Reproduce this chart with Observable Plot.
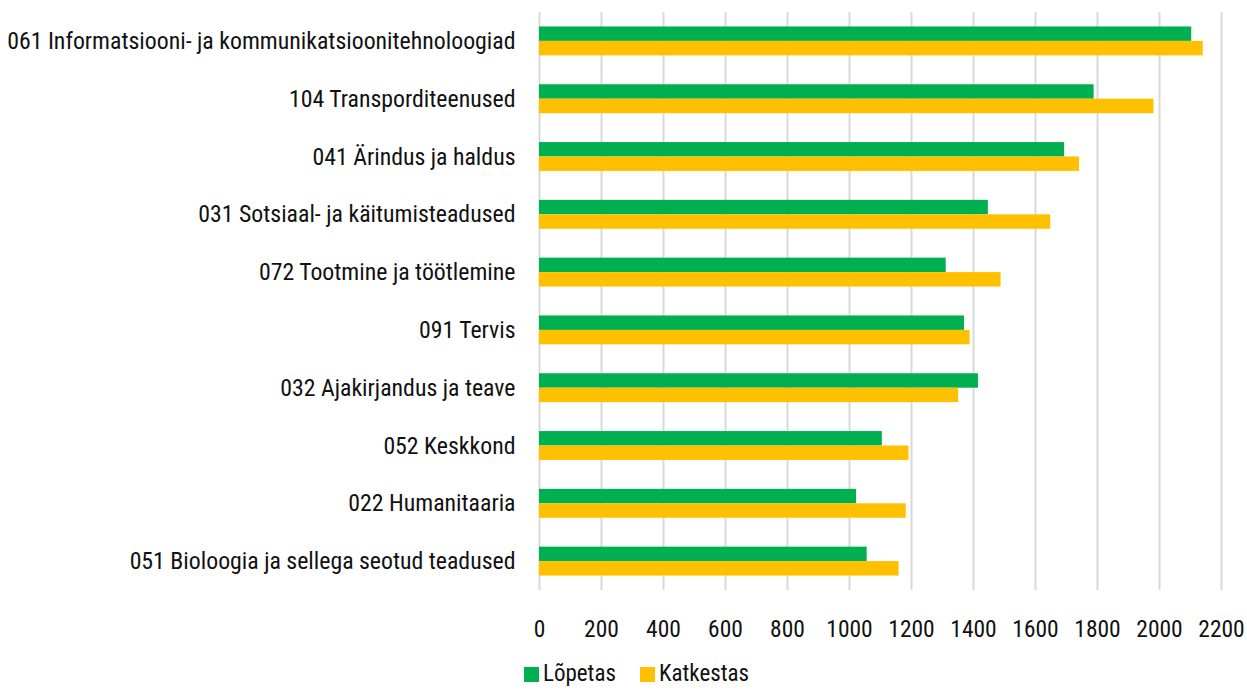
<!DOCTYPE html>
<html>
<head>
<meta charset="utf-8">
<script src="https://cdn.jsdelivr.net/npm/d3@7"></script>
<script src="https://cdn.jsdelivr.net/npm/@observablehq/plot@0.6"></script>
<style>
  body { margin: 0; background: #fff; font-family: "Roboto Condensed", "Liberation Sans Narrow", "DejaVu Sans Condensed", Roboto, sans-serif; font-stretch: condensed; }
  #chart svg { display: block; }
  .legend { display: flex; justify-content: center; gap: 24px; font-size: 23px; color: #111; margin-left: 26px; margin-top: 12px; line-height: 24px; }
  .legend span.item { display: flex; align-items: center; gap: 4px; }
  .legend span.sw { width: 15px; height: 15px; display: inline-block; }
</style>
</head>
<body>
<div id="chart"></div>
<script>
const categories = [
  "061 Informatsiooni- ja kommunikatsioonitehnoloogiad",
  "104 Transporditeenused",
  "041 Ärindus ja haldus",
  "031 Sotsiaal- ja käitumisteadused",
  "072 Tootmine ja töötlemine",
  "091 Tervis",
  "032 Ajakirjandus ja teave",
  "052 Keskkond",
  "022 Humanitaaria",
  "051 Bioloogia ja sellega seotud teadused"
];
const lopetas = [2104, 1789, 1694, 1448, 1312, 1371, 1416, 1106, 1023, 1057];
const katkestas = [2141, 1982, 1742, 1649, 1489, 1389, 1352, 1192, 1183, 1160];
const seriesNames = ["Lõpetas", "Katkestas"];
const seriesColors = ["#00b050", "#ffc000"];
const xTicks = [0, 200, 400, 600, 800, 1000, 1200, 1400, 1600, 1800, 2000, 2200];

const rowsL = categories.map((c, i) => ({cat: c, value: lopetas[i], series: seriesNames[0]}));
const rowsK = categories.map((c, i) => ({cat: c, value: katkestas[i], series: seriesNames[1]}));

const W = 1247, H = 650, mT = 12, mB = 60;
const n = categories.length;
const step = (H - mT - mB) / (n - 0.5 + 2 * 0.25);
const bw = step * 0.5;
const half = bw / 2;

const chart = Plot.plot({
  width: W,
  height: H,
  marginTop: mT,
  marginBottom: mB,
  marginLeft: 539,
  marginRight: 26,
  style: {fontFamily: '"Roboto Condensed", "Liberation Sans Narrow", "DejaVu Sans Condensed", Roboto, sans-serif', fontSize: "23.8px", color: "#111", fontStretch: "condensed"},
  x: {domain: [0, 2200], ticks: xTicks, label: null},
  y: {domain: categories, paddingInner: 0.5, paddingOuter: 0.25, round: false, label: null},
  color: {domain: seriesNames, range: seriesColors},
  marks: [
    Plot.gridX(xTicks, {stroke: "#d9d9d9", strokeOpacity: 1, strokeWidth: 2}),
    Plot.barX(rowsL, {x: "value", y: "cat", fill: "series", insetBottom: half}),
    Plot.barX(rowsK, {x: "value", y: "cat", fill: "series", insetTop: half}),
    Plot.axisX({ticks: xTicks, tickSize: 0, tickPadding: 30, label: null, fontSize: 23.5, tickFormat: d => String(d)}),
    Plot.axisY({tickSize: 0, tickPadding: 24, label: null, fontSize: 23.8})
  ]
});
document.getElementById("chart").appendChild(chart);

const legend = document.createElement("div");
legend.className = "legend";
seriesNames.forEach((s, i) => {
  const it = document.createElement("span");
  it.className = "item";
  const sw = document.createElement("span");
  sw.className = "sw";
  sw.style.background = seriesColors[i];
  it.appendChild(sw);
  it.appendChild(document.createTextNode(s));
  legend.appendChild(it);
});
document.body.appendChild(legend);
</script>
</body>
</html>
